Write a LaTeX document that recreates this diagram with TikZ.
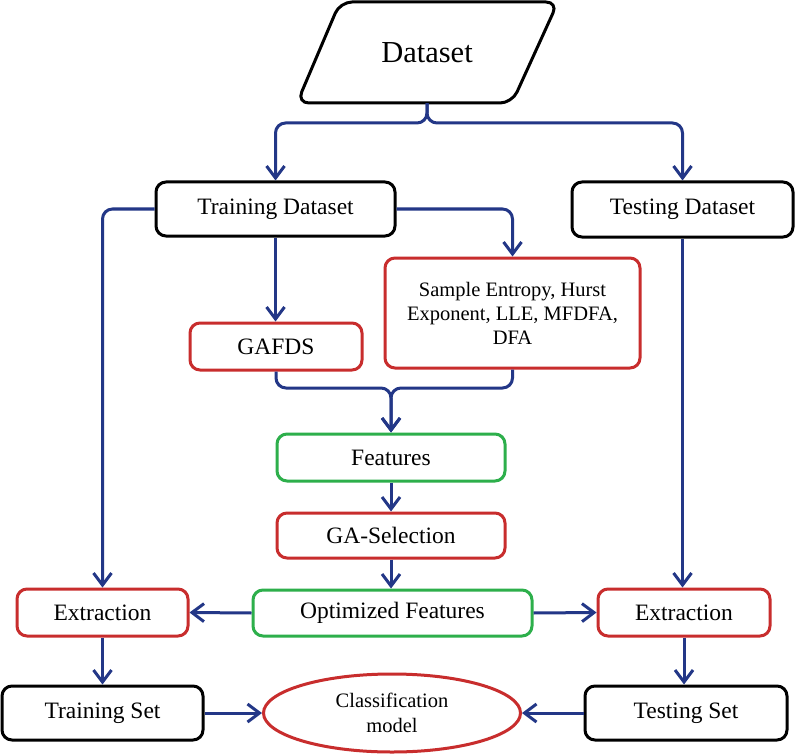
\documentclass[tikz,border=0pt]{standalone}
\usepackage{fontspec}
\setmainfont{Liberation Serif}
\usetikzlibrary{arrows.meta,shapes.geometric,calc}
\definecolor{lineblue}{RGB}{35,55,135}
\definecolor{boxred}{RGB}{200,45,45}
\definecolor{boxgreen}{RGB}{45,175,75}
\tikzset{
  box/.style={rectangle, rounded corners=10pt, line width=3pt, fill=white, align=center, inner sep=0pt, font=\fontsize{23.5}{26}\selectfont},
  blackbox/.style={box, draw=black},
  redbox/.style={box, draw=boxred},
  greenbox/.style={box, draw=boxgreen},
  conn/.style={draw=lineblue, line width=3pt},
  arr/.style={conn, -{Straight Barb[length=12pt,width=18pt]}},
}
\begin{document}
\begin{tikzpicture}[x=1pt,y=-1pt]
\useasboundingbox (0,0) rectangle (800,754);
\fill[white] (0,0) rectangle (800,754);

% Dataset parallelogram
\draw[line width=3pt, rounded corners=12pt, fill=white] (340,2) -- (558,2) -- (512,103) -- (297,103) -- cycle;
\node[inner sep=0pt, minimum width=180pt, minimum height=101pt, font=\fontsize{30.5}{34}\selectfont] (ds) at (427,52.5) {Dataset};

\node[blackbox, minimum width=239pt, minimum height=54pt] (trd) at (275.5,209) {Training Dataset};
\node[blackbox, minimum width=221pt, minimum height=55pt] (ted) at (682.5,209.5) {Testing Dataset};
\node[redbox, minimum width=172pt, minimum height=47pt] (gafds) at (276,346.5) {GAFDS};
\node[redbox, minimum width=255pt, minimum height=110pt, font=\fontsize{20.5}{24}\selectfont] (samp) at (512.5,313) {Sample Entropy, Hurst\\Exponent, LLE, MFDFA,\\DFA};
\node[greenbox, minimum width=228pt, minimum height=47pt] (feat) at (391,457.5) {Features};
\node[redbox, minimum width=228pt, minimum height=45pt] (gasel) at (391,535.5) {GA-Selection};
\node[greenbox, minimum width=279pt, minimum height=46pt] (opt) at (392.5,613) {Optimized Features};
\node[redbox, minimum width=171pt, minimum height=47pt] (extl) at (102.5,612.5) {Extraction};
\node[redbox, minimum width=172pt, minimum height=47pt] (extr) at (684,612.5) {Extraction};
\node[blackbox, minimum width=201pt, minimum height=54pt] (trs) at (102.5,713) {Training Set};
\node[blackbox, minimum width=202pt, minimum height=54pt] (tes) at (686,713) {Testing Set};
\node[ellipse, draw=boxred, line width=3pt, fill=white, inner sep=0pt, minimum width=257pt, minimum height=78pt, align=center, font=\fontsize{20.5}{25}\selectfont] (cls) at (392,713) {Classification\\model};

\coordinate (split) at (427,123);
\coordinate (mg) at (391,388);

% connectors
\draw[arr, rounded corners=10pt] (ds.south) |- (trd.north |- split) -- (trd.north);
\draw[arr, rounded corners=10pt] (ds.south) |- (ted.north |- split) -- (ted.north);
\draw[arr, rounded corners=10pt] (trd.west) -| (extl.north);
\draw[arr, rounded corners=10pt] (trd.east) -| (samp.north);
\draw[arr] (trd.south) -- (trd.south |- gafds.north);
\draw[arr] (ted.south) -- (ted.south |- extr.north);
\draw[arr, rounded corners=10pt] (gafds.south) |- (mg) -- (feat.north);
\draw[arr, rounded corners=10pt] (samp.south) |- (mg) -- (feat.north);
\draw[arr] (feat.south) -- (gasel.north);
\draw[arr] (gasel.south) -- (gasel.south |- opt.north);
\draw[arr] (opt.west) -- (extl.east);
\draw[arr] (opt.east) -- (extr.west);
\draw[arr] (extl.south) -- (trs.north);
\draw[arr] (extr.south) -- (extr.south |- tes.north);
\draw[arr] (trs.east) -- (cls.west);
\draw[arr] (tes.west) -- (cls.east);
\end{tikzpicture}
\end{document}
